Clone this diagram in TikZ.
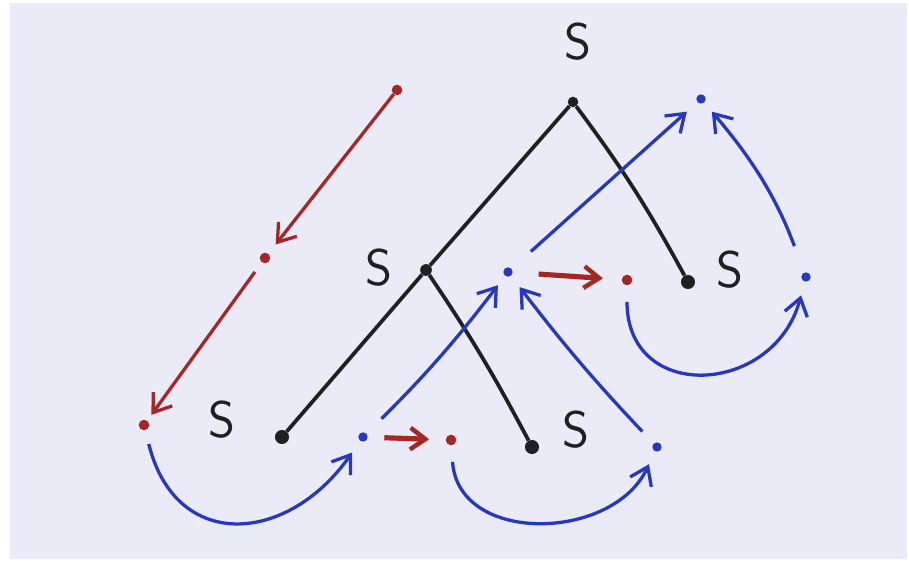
\documentclass[tikz,border=0pt]{standalone}
\usetikzlibrary{arrows.meta}
\definecolor{paper}{RGB}{234,235,246}
\definecolor{inkred}{RGB}{165,38,36}
\definecolor{inkblue}{RGB}{38,56,192}
\definecolor{inkblack}{RGB}{32,32,34}
\tikzset{
 dot/.style={circle,fill,inner sep=0pt,minimum size=#1},
 blackdot/.style={dot=12pt,inkblack},
 reddot/.style={dot=9pt,inkred},
 bluedot/.style={dot=8pt,inkblue},
 tree/.style={inkblack,line width=3.2pt},
 redarr/.style={inkred,line width=2.8pt,-{Straight Barb[length=5mm,width=7mm,line width=2.8pt]}},
 redshort/.style={inkred,line width=4.4pt,-{Straight Barb[length=4.5mm,width=6.5mm,line width=3.8pt]}},
 bluearr/.style={inkblue,line width=2.8pt,-{Straight Barb[length=5mm,width=7mm,line width=2.8pt]}},
 slabel/.style={inkblack,font=\fontsize{44}{46}\sffamily}
}
\begin{document}
\begin{tikzpicture}[x=.03cm,y=.03cm]
 \useasboundingbox (0,0) rectangle (909,561);
 \fill[white] (0,0) rectangle (909,561);
 \fill[paper] (10,2) rectangle (907,558);
 % tree
 \node[blackdot,dot=9pt] (root) at (573,459) {};
 \node[blackdot,dot=10pt] (midS) at (426,291) {};
 \node[blackdot] (leafA) at (282,124) {};
 \node[blackdot] (leafB) at (532,114) {};
 \node[blackdot] (leafC) at (688,279) {};
 \node[slabel] (lroot) at (578,519) {S};
 \node[slabel] (lmid) at (379,293) {S};
 \node[slabel] (lA) at (222,141) {S};
 \node[slabel] (lB) at (576,131) {S};
 \node[slabel] (lC) at (730,291) {S};
 \draw[tree] (root) -- (midS);
 \draw[tree] (root) to[bend left=4] (leafC);
 \draw[tree] (midS) -- (leafA);
 \draw[tree] (midS) to[bend left=3] (leafB);
 % red dots
 \node[reddot] (r0) at (397,471) {};
 \node[reddot] (r1) at (265,303) {};
 \node[reddot] (r2) at (144,136) {};
 \node[reddot] (r3) at (451,121) {};
 \node[reddot] (r4) at (627,281) {};
 % blue dots
 \node[bluedot] (b1) at (363,124) {};
 \node[bluedot] (b2) at (508,289) {};
 \node[bluedot] (b3) at (701,462) {};
 \node[bluedot] (b4) at (806,284) {};
 \node[bluedot] (b5) at (657,114) {};
 % red arrows
 \draw[redarr,shorten >=10pt] (r0) -- (r1);
 \draw[redarr,shorten <=10pt,shorten >=6pt] (r1) -- (r2);
 \draw[redshort,shorten <=14pt,shorten >=14pt] (b1) -- (r3);
 \draw[redshort,shorten <=22pt,shorten >=16pt] (b2) -- (r4);
 % blue arrows
 \draw[bluearr,shorten <=12pt,shorten >=12pt] (r2) to[out=-76,in=-125,looseness=1.5] (b1);
 \draw[bluearr,shorten <=14pt,shorten >=12pt] (r3) to[out=-86,in=-115,looseness=1.25] (b5);
 \draw[bluearr,shorten <=14pt,shorten >=12pt] (r4) to[out=-90,in=-105,looseness=1.7] (b4);
 \draw[bluearr,shorten <=18pt,shorten >=10pt] (b1) to[bend right=4] (b2);
 \draw[bluearr,shorten <=14pt,shorten >=12pt] (b5) to[bend left=3] (b2);
 \draw[bluearr,shorten <=22pt,shorten >=12pt] (b2) -- (b3);
 \draw[bluearr,shorten <=24pt,shorten >=10pt] (b4) to[bend right=10] (b3);
\end{tikzpicture}
\end{document}
